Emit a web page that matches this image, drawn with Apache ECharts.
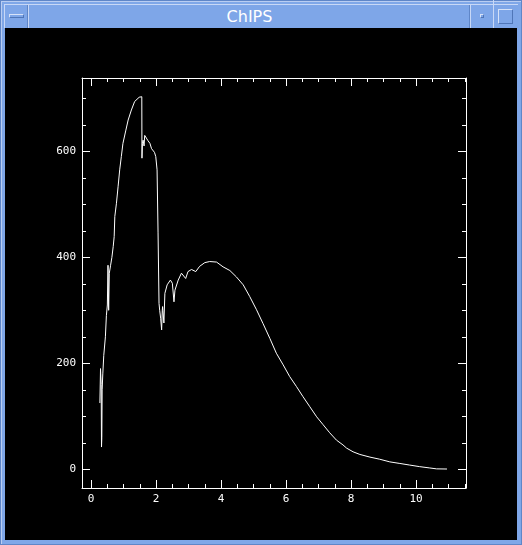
<!DOCTYPE html>
<html>
<head>
<meta charset="utf-8">
<script src="https://cdn.jsdelivr.net/npm/echarts@6/dist/echarts.min.js"></script>
<style>
  html, body { margin:0; padding:0; width:522px; height:545px; overflow:hidden; background:#7fa7e8; position:relative; }
  .abs { position:absolute; box-sizing:border-box; }
  #chart { position:absolute; left:5px; top:28px; width:512px; height:512px; background:#000; }
</style>
</head>
<body>
<!-- window chrome -->
<div class="abs" style="left:0;top:0;width:522px;height:545px;border:1px solid #5f86c8;"></div>
<div class="abs" style="left:1px;top:1px;width:520px;height:543px;border-left:1px solid #b9cdf2;border-top:1px solid #b9cdf2;"></div>
<div class="abs" style="left:4px;top:4px;width:514px;height:24px;border-top:1px solid #c8d8f6;border-left:1px solid #c8d8f6;background:#7ea6e8;"></div>
<div class="abs" style="left:28px;top:5px;width:1px;height:23px;background:#c8d8f6;"></div>
<div class="abs" style="left:470px;top:5px;width:1px;height:23px;background:#c8d8f6;"></div>
<div class="abs" style="left:493px;top:0px;width:1px;height:28px;background:#c8d8f6;"></div>
<div class="abs" style="left:27px;top:5px;width:1px;height:23px;background:#5f86c8;"></div>
<div class="abs" style="left:469px;top:5px;width:1px;height:23px;background:#5f86c8;"></div>
<div class="abs" style="left:9px;top:14px;width:15px;height:4px;border-top:1px solid #d6e2f8;border-left:1px solid #d6e2f8;border-right:1px solid #4f76b8;border-bottom:1px solid #4f76b8;background:#7ea6e8;"></div>
<div class="abs" style="left:480px;top:14px;width:4px;height:4px;border-top:1px solid #d6e2f8;border-left:1px solid #d6e2f8;border-right:1px solid #4f76b8;border-bottom:1px solid #4f76b8;background:#7ea6e8;"></div>
<div class="abs" style="left:498px;top:9px;width:15px;height:15px;border-top:1px solid #d6e2f8;border-left:1px solid #d6e2f8;border-right:1px solid #4f76b8;border-bottom:1px solid #4f76b8;background:#7ea6e8;"></div>
<div class="abs" style="left:29px;top:5px;width:441px;height:23px;line-height:23px;text-align:center;color:#ffffff;font-family:'DejaVu Sans',sans-serif;font-size:16px;">ChIPS</div>
<div id="chart"></div>
<script>
// ---- data ----
var energy = [0.27, 0.29, 0.31, 0.32, 0.33, 0.34, 0.36, 0.39, 0.44, 0.47, 0.50, 0.52, 0.54, 0.56, 0.60, 0.64, 0.68,
  0.71, 0.73, 0.78, 0.83, 0.88, 0.93, 0.98, 1.07, 1.14, 1.24, 1.34, 1.48, 1.56, 1.565, 1.58, 1.60, 1.63, 1.65,
  1.70, 1.75, 1.81, 1.86, 1.90, 1.95, 1.99, 2.03, 2.06, 2.09, 2.11, 2.14, 2.17, 2.19, 2.20, 2.24, 2.27, 2.34,
  2.44, 2.50, 2.55, 2.58, 2.68, 2.78, 2.83, 2.91, 2.98, 3.09, 3.15, 3.22, 3.34, 3.50, 3.65, 3.86, 4.06, 4.27,
  4.47, 4.68, 4.88, 5.09, 5.29, 5.50, 5.70, 5.91, 6.11, 6.32, 6.52, 6.73, 6.94, 7.14, 7.34, 7.55, 7.75, 7.86,
  8.06, 8.27, 8.58, 8.88, 9.19, 9.50, 9.80, 10.11, 10.42, 10.63, 10.95];
var counts = [125, 190, 160, 42, 60, 150, 180, 215, 250, 290, 310, 385, 300, 370, 385, 400, 420,
  439, 477, 502, 533, 565, 590, 615, 640, 659, 678, 694, 702, 703, 587, 615, 621, 610, 630,
  625, 620, 615, 605, 606, 598, 590, 565, 446, 313, 300, 285, 263, 300, 307, 276, 332, 348,
  357, 351, 316, 338, 357, 370, 373, 360, 373, 377, 377, 373, 383, 390, 392, 391, 382, 375,
  363, 348, 326, 301, 275, 247, 219, 197, 175, 156, 137, 118, 99, 84, 69, 55, 46, 40,
  33, 28, 23, 19, 14, 11, 8, 5, 2.5, 0.8, 0.5];
var xMajorTicks = [0, 2, 4, 6, 8, 10];
var xMinorTicks = [0.5, 1, 1.5, 2.5, 3, 3.5, 4.5, 5, 5.5, 6.5, 7, 7.5, 8.5, 9, 9.5, 10.5, 11, 11.5];
var yMajorTicks = [0, 200, 400, 600];
var yMinorTicks = [50, 100, 150, 250, 300, 350, 450, 500, 550, 650, 700];
var xRange = [-0.28, 11.535];
var yRange = [-35.3, 738.3];

var white = '#ffffff';
var labelFont = { color: white, fontFamily: 'DejaVu Sans Mono, monospace', fontSize: 11 };

function xAxisDef(pos, major, withLabel) {
  return {
    type: 'value', position: pos, min: xRange[0], max: xRange[1],
    axisLine: { show: major, onZero: false, lineStyle: { color: white, width: 1 } },
    axisTick: { show: true, inside: true, length: major ? 8 : 4, customValues: major ? xMajorTicks : xMinorTicks,
      lineStyle: { color: white, width: 1 } },
    axisLabel: Object.assign({ show: withLabel, customValues: xMajorTicks, margin: 6 }, labelFont),
    splitLine: { show: false }
  };
}
function yAxisDef(pos, major, withLabel) {
  return {
    type: 'value', position: pos, min: yRange[0], max: yRange[1],
    axisLine: { show: major, onZero: false, lineStyle: { color: white, width: 1 } },
    axisTick: { show: true, inside: true, length: major ? 8 : 4, customValues: major ? yMajorTicks : yMinorTicks,
      lineStyle: { color: white, width: 1 } },
    axisLabel: Object.assign({ show: withLabel, customValues: yMajorTicks, margin: 6 }, labelFont),
    splitLine: { show: false }
  };
}

var chart = echarts.init(document.getElementById('chart'), null, { renderer: 'canvas' });
chart.setOption({
  backgroundColor: '#000000',
  animation: false,
  grid: { left: 77, top: 50, width: 384, height: 410, containLabel: false },
  xAxis: [xAxisDef('bottom', true, true), xAxisDef('bottom', false, false),
          xAxisDef('top', true, false), xAxisDef('top', false, false)],
  yAxis: [yAxisDef('left', true, true), yAxisDef('left', false, false),
          yAxisDef('right', true, false), yAxisDef('right', false, false)],
  series: [{
    type: 'line', xAxisIndex: 0, yAxisIndex: 0, showSymbol: false, symbol: 'none',
    lineStyle: { color: white, width: 1 },
    data: energy.map(function (e, i) { return [e, counts[i]]; })
  }]
});
</script>
</body>
</html>
